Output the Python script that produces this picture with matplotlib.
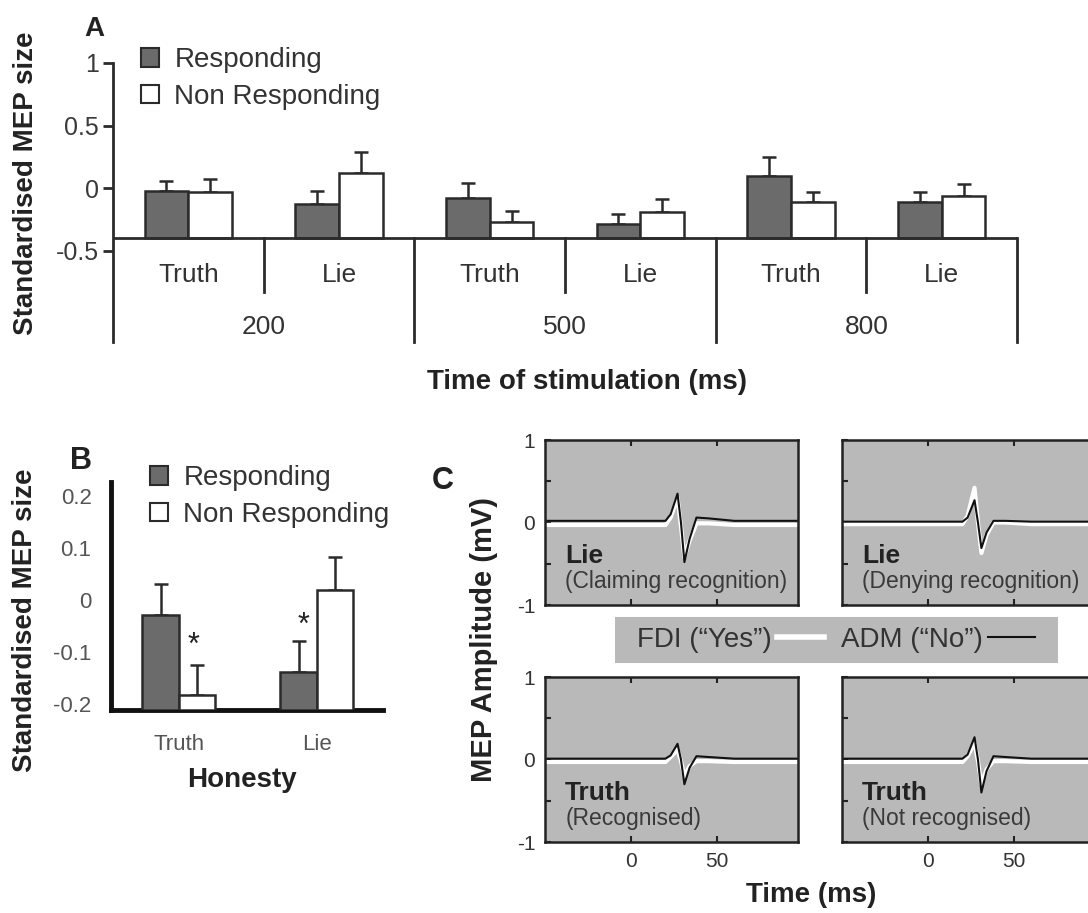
import matplotlib.pyplot as plt
from matplotlib.patches import Patch, Rectangle
from matplotlib.lines import Line2D
import numpy as np

plt.rcParams['font.family'] = ['Liberation Sans', 'DejaVu Sans']

W, H = 1088, 913

def px(l, t, r, b):
    # pixel box -> figure fraction rect
    return [l / W, 1 - b / H, (r - l) / W, (b - t) / H]

# ---- panel A data ----
stim_times = ['200', '500', '800']
conditions = ['Truth', 'Lie']
resp_a = [-0.02, -0.13, -0.08, -0.29, 0.10, -0.11]
resp_a_err = [0.08, 0.11, 0.12, 0.08, 0.15, 0.08]
nonresp_a = [-0.03, 0.12, -0.27, -0.19, -0.11, -0.06]
nonresp_a_err = [0.10, 0.17, 0.09, 0.10, 0.08, 0.09]

# ---- panel B data ----
honesty = ['Truth', 'Lie']
resp_b = [-0.03, -0.138]
resp_b_err = [0.06, 0.059]
nonresp_b = [-0.183, 0.019]
nonresp_b_err = [0.058, 0.064]
stars_b = [(1.108, -0.071), (1.905, -0.033)]

# ---- panel C traces (time ms, amplitude mV) ----
trace_t = [-50, 20, 23, 27, 29, 31, 34, 38, 45, 60, 97]
panels_c = [
    ('Lie', '(Claiming recognition)',
     [-0.03, -0.03, 0.06, 0.30, -0.05, -0.42, -0.22, -0.01, -0.01, -0.03, -0.03],
     [0.02, 0.02, 0.10, 0.35, 0.00, -0.48, -0.20, 0.06, 0.05, 0.02, 0.02]),
    ('Lie', '(Denying recognition)',
     [-0.02, -0.02, 0.08, 0.42, 0.00, -0.37, -0.15, 0.00, 0.00, -0.02, -0.02],
     [0.01, 0.01, 0.06, 0.27, 0.00, -0.31, -0.12, 0.02, 0.02, 0.01, 0.01]),
    ('Truth', '(Recognised)',
     [-0.03, -0.03, 0.03, 0.12, -0.02, -0.20, -0.08, -0.02, -0.02, -0.03, -0.03],
     [0.01, 0.01, 0.05, 0.19, 0.00, -0.30, -0.10, 0.04, 0.03, 0.01, 0.01]),
    ('Truth', '(Not recognised)',
     [-0.03, -0.03, 0.04, 0.20, -0.02, -0.30, -0.12, -0.02, -0.02, -0.03, -0.03],
     [0.01, 0.01, 0.06, 0.27, 0.00, -0.40, -0.14, 0.04, 0.03, 0.01, 0.01]),
]

dark = '#2b2b2b'
grey_fill = '#6b6b6b'
bg_c = '#b9b9b9'

fig = plt.figure(figsize=(W / 100, H / 100), dpi=100)

# ================= Panel A =================
axA = fig.add_axes(px(113, 63, 1017, 342))
base = -0.4
ylo = -1.23
n = len(resp_a)
centers = np.arange(n) + 0.5
bw = 0.29
axA.bar(centers - bw / 2, np.array(resp_a) - base, bottom=base, width=bw,
        color=grey_fill, edgecolor=dark, linewidth=1.8, zorder=3)
axA.bar(centers + bw / 2, np.array(nonresp_a) - base, bottom=base, width=bw,
        color='white', edgecolor=dark, linewidth=1.8, zorder=3)
axA.errorbar(centers - bw / 2, resp_a, yerr=[np.zeros(n), resp_a_err], fmt='none',
             ecolor=dark, elinewidth=1.8, capsize=5, capthick=1.8, zorder=2)
axA.errorbar(centers + bw / 2, nonresp_a, yerr=[np.zeros(n), nonresp_a_err], fmt='none',
             ecolor=dark, elinewidth=1.8, capsize=5, capthick=1.8, zorder=2)
axA.plot([0, n], [base, base], color=dark, lw=2, zorder=4, solid_capstyle='butt')
for k in range(1, n + 1):
    if k % 2 == 0:
        axA.plot([k, k], [base, ylo], color=dark, lw=2, clip_on=False)
    else:
        axA.plot([k, k], [base, -0.83], color=dark, lw=2, clip_on=False)
for i, c in enumerate(centers):
    axA.text(c, -0.695, conditions[i % 2], ha='center', va='center',
             fontsize=19, color='#333333')
for g, lab in enumerate(stim_times):
    axA.text(2 * g + 1, -1.11, lab, ha='center', va='center', fontsize=19,
             color='#333333')
axA.set_xlim(0, n)
axA.set_ylim(ylo, 1.0)
axA.set_xticks([])
axA.set_yticks([-0.5, 0, 0.5, 1])
axA.set_yticklabels(['-0.5', '0', '0.5', '1'])
axA.tick_params(axis='y', direction='out', length=7, width=2, color=dark,
                labelsize=18, labelcolor='#3a3a3a', pad=3)
for s in ['top', 'right', 'bottom']:
    axA.spines[s].set_visible(False)
axA.spines['left'].set_bounds(ylo, 1.0)
axA.spines['left'].set_linewidth(2)
axA.spines['left'].set_color(dark)
axA.patch.set_alpha(0)

legA = [Patch(facecolor=grey_fill, edgecolor=dark, linewidth=1.5),
        Patch(facecolor='white', edgecolor=dark, linewidth=1.5)]
axA.legend(legA, ['Responding', 'Non Responding'], loc='upper left',
           bbox_to_anchor=(141 / W, 1 - 47 / H), bbox_transform=fig.transFigure,
           frameon=False, fontsize=20, handlelength=0.65, handleheight=0.65,
           handletextpad=0.55, labelspacing=0.38, borderpad=0, borderaxespad=0,
           labelcolor='#333333')

fig.text(26 / W, 1 - 183 / H, 'Standardised MEP size', rotation=90, ha='center',
         va='center', fontsize=20, fontweight='bold', color='#222222')
fig.text(587 / W, 1 - 382 / H, 'Time of stimulation (ms)', ha='center',
         va='center', fontsize=20, fontweight='bold', color='#222222')
fig.text(94 / W, 1 - 29 / H, 'A', ha='center', va='center', fontsize=20,
         fontweight='bold', color='#222222')

# ================= Panel B =================
axB = fig.add_axes(px(111, 482, 383, 710))
xb = np.arange(1, len(honesty) + 1)
bbw = 0.265
bbase = -0.212
axB.bar(xb - bbw / 2, np.array(resp_b) - bbase, bottom=bbase, width=bbw,
        color=grey_fill, edgecolor=dark, linewidth=1.8, zorder=3)
axB.bar(xb + bbw / 2, np.array(nonresp_b) - bbase, bottom=bbase, width=bbw,
        color='white', edgecolor=dark, linewidth=1.8, zorder=3)
axB.errorbar(xb - bbw / 2, resp_b, yerr=[np.zeros(2), resp_b_err], fmt='none',
             ecolor=dark, elinewidth=1.8, capsize=5, capthick=1.8, zorder=2)
axB.errorbar(xb + bbw / 2, nonresp_b, yerr=[np.zeros(2), nonresp_b_err], fmt='none',
             ecolor=dark, elinewidth=1.8, capsize=5, capthick=1.8, zorder=2)
for sx, sy in stars_b:
    axB.annotate('*', xy=(sx, sy), xytext=(0, -17), textcoords='offset pixels',
                 ha='center', va='baseline', fontsize=22, color='#222222')
axB.set_xlim(0.507, 2.48)
axB.set_ylim(bbase, 0.227)
axB.set_xticks(xb)
axB.set_xticklabels(honesty)
axB.set_yticks([-0.2, -0.1, 0, 0.1, 0.2])
axB.set_yticklabels(['-0.2', '-0.1', '0', '0.1', '0.2'])
axB.tick_params(axis='both', length=0, labelsize=16, labelcolor='#555555')
axB.tick_params(axis='y', pad=14)
axB.tick_params(axis='x', pad=17)
for s in ['top', 'right']:
    axB.spines[s].set_visible(False)
for s in ['left', 'bottom']:
    axB.spines[s].set_linewidth(3.5)
    axB.spines[s].set_color('#111111')
axB.patch.set_alpha(0)

axB.legend(legA, ['Responding', 'Non Responding'], loc='upper left',
           bbox_to_anchor=(150 / W, 1 - 465 / H), bbox_transform=fig.transFigure,
           frameon=False, fontsize=20, handlelength=0.65, handleheight=0.65,
           handletextpad=0.55, labelspacing=0.38, borderpad=0, borderaxespad=0,
           labelcolor='#333333')

fig.text(25 / W, 1 - 620 / H, 'Standardised MEP size', rotation=90, ha='center',
         va='center', fontsize=20, fontweight='bold', color='#222222')
fig.text(242 / W, 1 - 780 / H, 'Honesty', ha='center', va='center', fontsize=20,
         fontweight='bold', color='#222222')
fig.text(81 / W, 1 - 461 / H, 'B', ha='center', va='center', fontsize=22,
         fontweight='bold', color='#222222')

# ================= Panel C =================
boxes = [px(545, 440, 798, 605), px(842, 440, 1095, 605),
         px(545, 677, 798, 842), px(842, 677, 1095, 842)]
for i, (title, sub, fdi, adm) in enumerate(panels_c):
    ax = fig.add_axes(boxes[i])
    ax.set_facecolor(bg_c)
    ax.plot(trace_t, fdi, color='white', lw=3.0, solid_joinstyle='round')
    ax.plot(trace_t, adm, color='#111111', lw=1.5, solid_joinstyle='round')
    ax.set_xlim(-50, 97)
    ax.set_ylim(-1, 1)
    ax.set_xticks([0, 50])
    ax.set_yticks([-1, -0.5, 0, 0.5, 1])
    ax.tick_params(direction='in', length=4, width=1.5, color='#222222',
                   top=True, labelsize=15, labelcolor='#333333', pad=7)
    if i % 2 == 0:
        ax.set_yticklabels(['-1', '', '0', '', '1'])
    else:
        ax.set_yticklabels([])
    if i >= 2:
        ax.set_xticklabels(['0', '50'])
    else:
        ax.set_xticklabels([])
    for s in ax.spines.values():
        s.set_linewidth(1.8)
        s.set_color('#222222')
    ax.text(0.08, 0.30, title, transform=ax.transAxes, ha='left', va='center',
            fontsize=19, fontweight='bold', color='#222222')
    ax.text(0.08, 0.14, sub, transform=ax.transAxes, ha='left', va='center',
            fontsize=16.5, color='#3a3a3a')

fig.patches.append(Rectangle((615 / W, 1 - 663 / H), 443 / W, 46 / H,
                             transform=fig.transFigure, facecolor=bg_c,
                             edgecolor='none', zorder=0))
legC = [Line2D([], [], color='white', lw=4), Line2D([], [], color='#111111', lw=1.5)]
fig.legend(legC, ['FDI (\u201cYes\u201d)', 'ADM (\u201cNo\u201d)'], loc='center',
           bbox_to_anchor=(836 / W, 1 - 640 / H), ncol=2, frameon=False,
           markerfirst=False, fontsize=20, handlelength=1.7, handletextpad=0.2,
           columnspacing=0.6, labelcolor='#333333')

fig.text(484 / W, 1 - 640 / H, 'MEP Amplitude (mV)', rotation=90, ha='center',
         va='center', fontsize=21, fontweight='bold', color='#222222')
fig.text(811 / W, 1 - 895 / H, 'Time (ms)', ha='center', va='center', fontsize=20,
         fontweight='bold', color='#222222')
fig.text(443 / W, 1 - 481 / H, 'C', ha='center', va='center', fontsize=22,
         fontweight='bold', color='#222222')

fig.savefig('out.png', dpi=100)
